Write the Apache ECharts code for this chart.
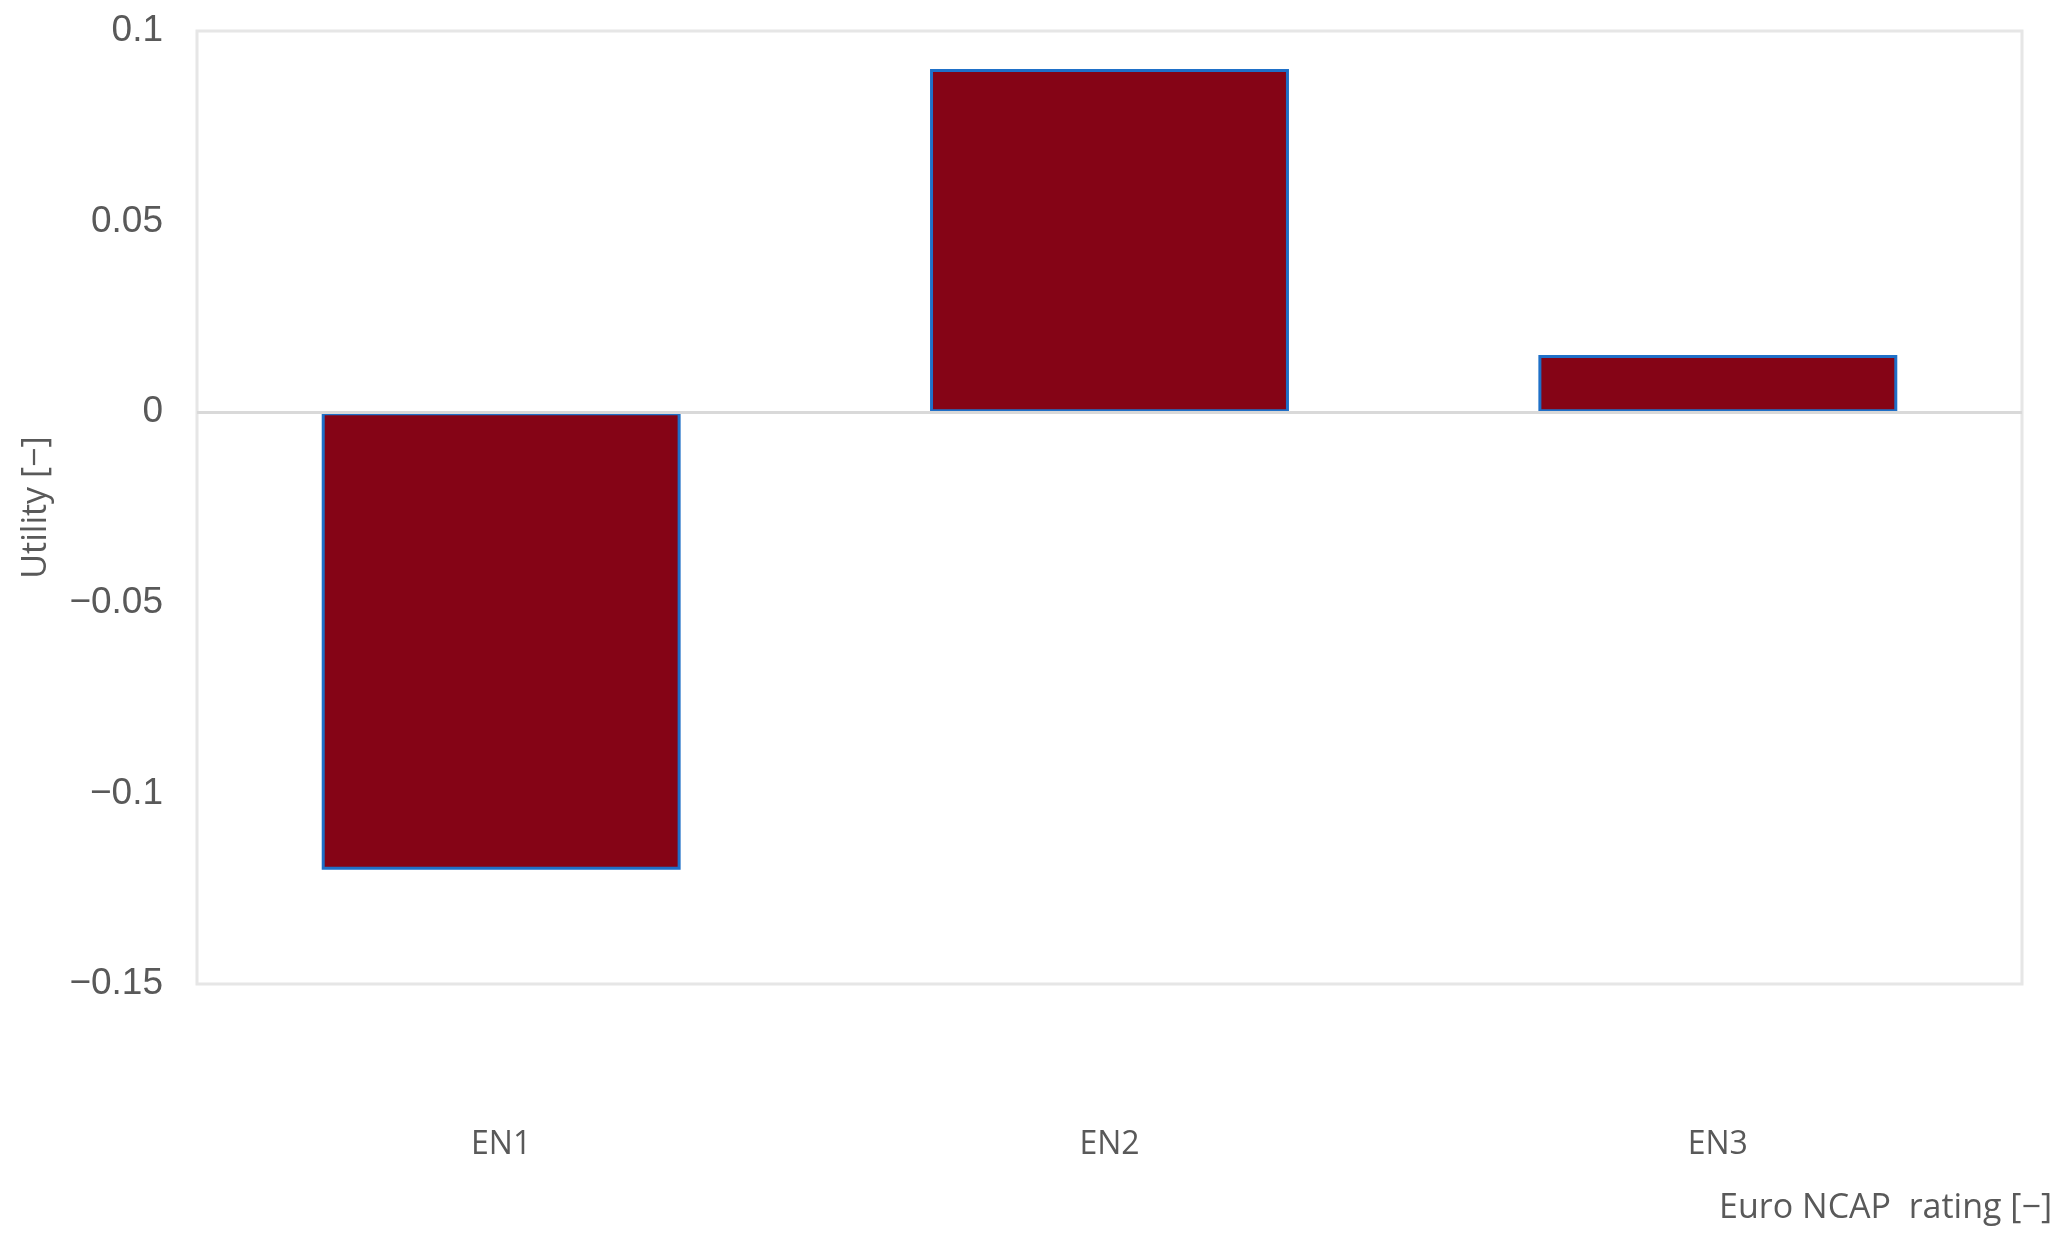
<!DOCTYPE html>
<html>
<head>
<meta charset="utf-8">
<script src="https://cdn.jsdelivr.net/npm/echarts@6/dist/echarts.min.js"></script>
<style>
html,body{margin:0;padding:0;background:#fff;}
#chart{width:2061px;height:1241px;}
</style>
</head>
<body>
<div id="chart"></div>
<script>
const categories = ['EN1', 'EN2', 'EN3'];
const utilityValues = [-0.12, 0.09, 0.015];
const yMin = -0.15, yMax = 0.1, yStep = 0.05;
const xAxisName = 'Euro NCAP  rating [\u2212]';
const yAxisName = 'Utility [\u2212]';

const chart = echarts.init(document.getElementById('chart'));
chart.setOption({
  backgroundColor: '#ffffff',
  animation: false,
  grid: {
    left: 197, right: 39, top: 31, bottom: 257,
    containLabel: false, outerBoundsMode: 'none',
    show: true, borderColor: '#e6e6e6', borderWidth: 3, backgroundColor: 'transparent'
  },
  graphic: [{
    type: 'text',
    right: 9,
    top: 1191,
    style: { text: xAxisName, fontFamily: 'Open Sans', fontSize: 34, fill: '#595959' }
  }],
  xAxis: {
    type: 'category',
    data: categories,
    axisLine: { show: false },
    axisTick: { show: false },
    axisLabel: { margin: 145, fontFamily: 'Open Sans', fontSize: 32, color: '#595959' }
  },
  yAxis: {
    type: 'value',
    min: yMin, max: yMax, interval: yStep,
    axisLine: { show: false },
    axisTick: { show: false },
    splitLine: { show: false },
    axisLabel: {
      margin: 34, fontFamily: 'Liberation Sans', fontSize: 37, color: '#595959',
      formatter: function (v) {
        const r = +v.toFixed(2);
        return r < 0 ? '\u2212' + Math.abs(r) : String(r);
      }
    },
    name: yAxisName,
    nameLocation: 'middle',
    nameGap: 144,
    nameTextStyle: { fontFamily: 'Open Sans', fontSize: 34, color: '#595959' }
  },
  series: [{
    type: 'bar',
    data: utilityValues,
    barWidth: '59%',
    itemStyle: { color: '#850416', borderColor: '#1f70c8', borderWidth: 3 },
    markLine: {
      silent: true,
      symbol: 'none',
      label: { show: false },
      lineStyle: { color: '#d9d9d9', width: 3, type: 'solid' },
      data: [{ yAxis: 0 }]
    }
  }]
});
</script>
</body>
</html>
